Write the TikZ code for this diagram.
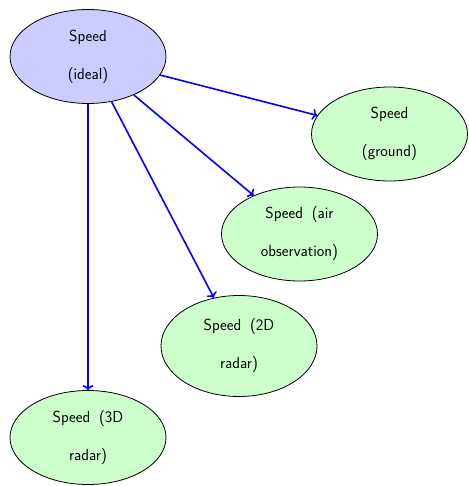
\documentclass[tikz,border=0pt]{standalone}
\usetikzlibrary{shapes.geometric,arrows.meta}
\begin{document}
\begin{tikzpicture}[x=1pt,y=-1pt,
  speednode/.style={ellipse,draw=black,line width=0.8pt,minimum width=156pt,minimum height=94pt,inner sep=0pt,align=center,
    font=\sffamily\fontsize{16}{38}\selectfont},
  idealnode/.style={speednode,fill=blue!20},
  othernode/.style={speednode,fill=green!20},
  link/.style={-{To[length=5pt,width=11pt]},draw=blue,line width=1.6pt}]
\useasboundingbox (0,0) rectangle (468,486);
\node[idealnode] (ideal) at (88,56.5) {Speed\\(ideal)};
\node[othernode] (ground) at (389.5,134) {Speed\\(ground)};
\node[othernode] (air) at (299.5,234) {Speed\hspace{0.55em}(air\\observation)};
\node[othernode,minimum height=101pt] (twod) at (239,346) {Speed\hspace{0.55em}(2D\\radar)};
\node[othernode] (threed) at (88,437.5) {Speed\hspace{0.55em}(3D\\radar)};
\draw[link] (ideal) -- (ground);
\draw[link] (ideal) -- (air);
\draw[link] (ideal) -- (twod);
\draw[link] (ideal) -- (threed);
\end{tikzpicture}
\end{document}
